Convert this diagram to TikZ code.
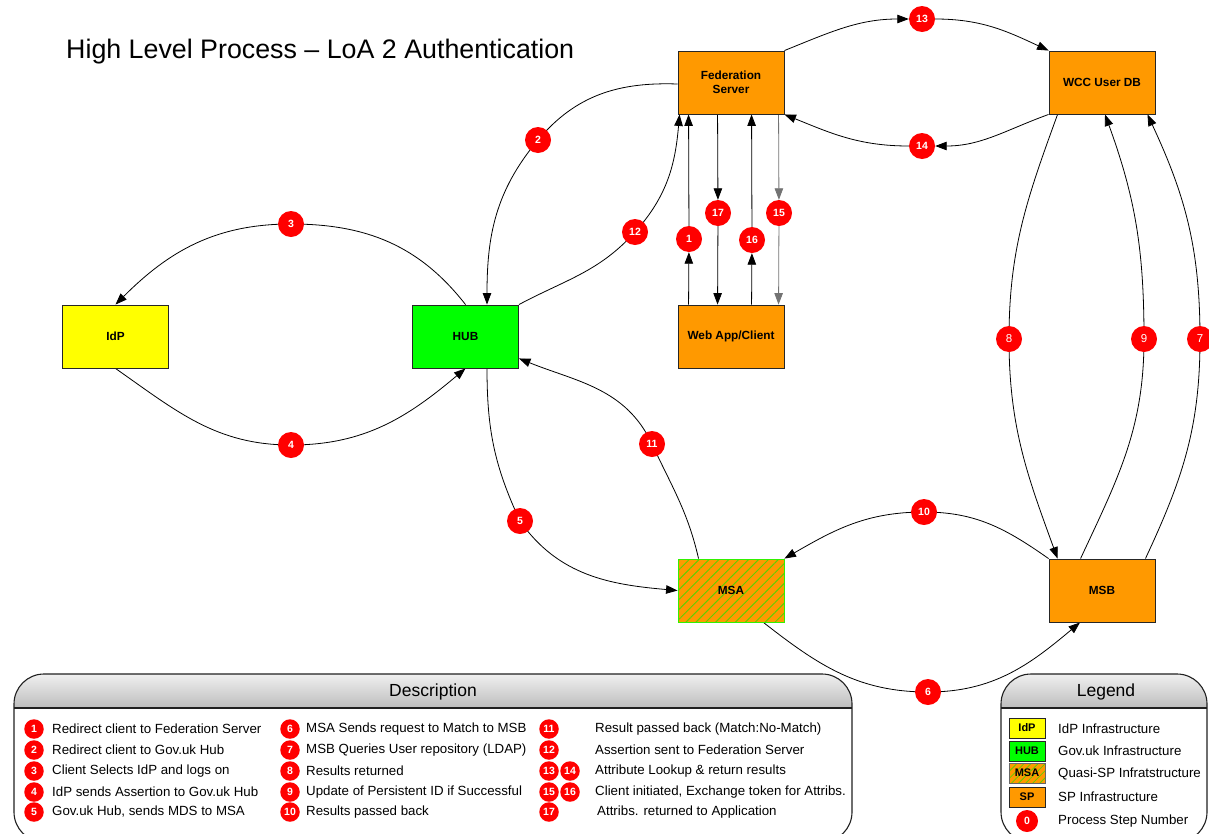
\documentclass[tikz,border=0pt]{standalone}
\usepackage{fontspec}
\setmainfont{Liberation Sans}
\usetikzlibrary{arrows.meta,patterns.meta,backgrounds}

\definecolor{sporange}{HTML}{FF9900}
\definecolor{idpyellow}{HTML}{FFFF00}
\definecolor{hubgreen}{HTML}{00FF00}
\definecolor{stepred}{HTML}{FF0000}
\definecolor{hatchgreen}{HTML}{5FD000}
\definecolor{msaedge}{HTML}{33F000}
\definecolor{paneledge}{HTML}{202020}

\tikzset{
  sysbox/.style={draw=black!85, line width=0.9pt, minimum width=106pt, minimum height=63pt,
    inner sep=2pt, align=center, font=\fontsize{11.8}{14.5}\selectfont\bfseries},
  spbox/.style={sysbox, fill=sporange},
  msabox/.style={sysbox, draw=msaedge, fill=sporange,
    postaction={pattern={Lines[angle=45,distance=7pt,line width=1pt]}, pattern color=hatchgreen},
    postaction={draw=msaedge, line width=0.9pt}},
  stepnum/.style={circle, fill=stepred, minimum size=26pt, inner sep=0pt, text=white,
    font=\fontsize{10.5}{10.5}\selectfont\bfseries},
  stepthin/.style={stepnum, font=\fontsize{11.5}{11.5}\selectfont},
  smallnum/.style={circle, fill=stepred, minimum size=19.5pt, inner sep=0pt, text=white,
    font=\fontsize{10.5}{10.5}\selectfont\bfseries},
  link/.style={line width=0.8pt, draw=black},
  arr/.style={link, -{Triangle[length=11.5pt,width=8.5pt]}},
  panel/.style={draw=paneledge, line width=1.1pt, rounded corners=30pt},
  paneltitle/.style={font=\fontsize{17.5}{20}\selectfont},
  desc/.style={anchor=west, inner sep=0pt, font=\fontsize{13.3}{15}\selectfont},
  legbox/.style={draw=black!85, line width=0.8pt, minimum width=36pt, minimum height=20pt,
    inner sep=0pt, font=\fontsize{11}{11}\selectfont\bfseries},
}

\begin{document}
\begin{tikzpicture}[x=1pt, y=-1pt]
\path[use as bounding box, clip] (0,0) rectangle (1209,833);

% ---------- title ----------
\node[anchor=west, inner sep=0pt, font=\fontsize{26.8}{30}\selectfont] (title) at (66,52)
  {High Level Process – LoA 2 Authentication};

% ---------- systems ----------
\node[spbox] (fed) at (731,82.5) {Federation\\Server};
\node[spbox] (wcc) at (1102,82.5) {WCC User DB};
\node[sysbox, fill=idpyellow] (idp) at (115.5,336.5) {IdP};
\node[sysbox, fill=hubgreen] (hub) at (465.5,336.5) {HUB};
\node[spbox] (web) at (731,336.5) {Web App/Client};
\node[msabox] (msa) at (731,590.5) {MSA};
\node[spbox] (msb) at (1102,590.5) {MSB};

% ---------- step numbers ----------
\node[stepnum] (c1) at (689,239) {1};
\node[stepnum] (c2) at (538,140) {2};
\node[stepnum] (c3) at (291,224) {3};
\node[stepnum] (c4) at (291,445) {4};
\node[stepnum] (c5) at (520,521) {5};
\node[stepnum] (c6) at (928,692) {6};
\node[stepthin] (c7) at (1200,339) {7};
\node[stepthin] (c8) at (1009,339) {8};
\node[stepthin] (c9) at (1144,339) {9};
\node[stepnum] (c10) at (924,512) {10};
\node[stepnum] (c11) at (652,444) {11};
\node[stepnum] (c12) at (635,232) {12};
\node[stepnum] (c13) at (922,19) {13};
\node[stepnum] (c14) at (922,146) {14};
\node[stepnum] (c15) at (779,213) {15};
\node[stepnum] (c16) at (752,240) {16};
\node[stepnum] (c17) at (718,213) {17};

% ---------- connectors ----------
\begin{pgfonlayer}{background}
  % 13 / 14 : federation server <-> user DB
  \draw[arr] (fed.north east) to[out=22,in=180] (c13);
  \draw[arr] (c13) to[out=0,in=155] (wcc.north west);
  \draw[arr] (wcc.south west) to[out=200,in=0] (c14);
  \draw[arr] (c14) to[out=180,in=-22] (fed.south east);
  % 2 : federation server -> hub
  \draw[link] ([yshift=-1.5pt]fed.west) to[out=178,in=50] (c2.center);
  \draw[arr] (c2.center) to[out=230,in=90] ([xshift=21.5pt]hub.north);
  % 12 : hub -> federation server
  \draw[link] (hub.north east) to[out=28,in=228] (c12.center);
  \draw[arr] (c12.center) to[out=48,in=-95] ([xshift=2pt]fed.south west);
  % 3 / 4 : hub <-> idp
  \draw[link] (hub.north) to[out=128,in=0] (c3.center);
  \draw[arr] (c3.center) to[out=180,in=45] (idp.north);
  \draw[link] (idp.south) to[out=-35,in=180] (c4.center);
  \draw[arr] (c4.center) to[out=0,in=-140] (hub.south);
  % 5 / 11 : hub <-> msa
  \draw[link] ([xshift=21.5pt]hub.south) to[out=-90,in=115] (c5.center);
  \draw[arr] (c5.center) to[out=-55,in=175] (msa.west);
  \draw[link] ([xshift=21pt]msa.north west) to[out=103,in=-65] (c11.center);
  \draw[arr] (c11.center) to[out=115,in=-22] ([yshift=10pt]hub.south east);
  % 6 / 10 : msa <-> msb
  \draw[link] (msb.north west) to[out=145,in=0] (c10.center);
  \draw[arr] (c10.center) to[out=180,in=30] (msa.north east);
  \draw[link] ([xshift=-21pt]msa.south east) to[out=-38,in=180] (c6.center);
  \draw[arr] (c6.center) to[out=0,in=-140] ([xshift=-22pt]msb.south);
  % 7 / 8 / 9 : msb <-> user DB
  \draw[link] ([xshift=9pt]wcc.south west) to[out=-110,in=90] (c8.center);
  \draw[arr] (c8.center) to[out=-90,in=110] ([xshift=9pt]msb.north west);
  \draw[link] ([xshift=32pt]msb.north west) to[out=65,in=-90] (c9.center);
  \draw[arr] (c9.center) to[out=90,in=-70] ([xshift=3pt]wcc.south);
  \draw[link] ([xshift=-10pt]msb.north east) to[out=65,in=-90] (c7.center);
  \draw[arr] (c7.center) to[out=90,in=-65] ([xshift=-8pt]wcc.south east);
  % 1 / 15 / 16 / 17 : client <-> federation server
  \draw[arr] ([xshift=11pt]web.north west) -- (c1);
  \draw[arr] (c1) -- ([xshift=11pt]fed.south west);
  \draw[arr] ([xshift=40pt]fed.south west) -- (c17);
  \draw[arr] (c17) -- ([xshift=40pt]web.north west);
  \draw[arr] ([xshift=74pt]web.north west) -- (c16);
  \draw[arr] (c16) -- ([xshift=74pt]fed.south west);
  \draw[arr, draw=black!55] ([xshift=101pt]fed.south west) -- (c15);
  \draw[arr, draw=black!55] (c15) -- ([xshift=101pt]web.north west);
\end{pgfonlayer}

% ---------- description panel ----------
\begin{scope}
  \clip[rounded corners=30pt] (14,674) rectangle (852,842);
  \shade[top color=black!6, bottom color=black!26] (14,674) rectangle (852,708);
\end{scope}
\draw[panel] (14,674) rectangle (852,842);
\draw[draw=paneledge, line width=1.1pt] (14,708) -- (852,708);
\node[paneltitle] (desctitle) at (433,692) {Description};

\foreach \n/\y/\t in {1/729/Redirect client to Federation Server,
                      2/750/Redirect client to Gov.uk Hub,
                      3/771/Client Selects IdP and logs on,
                      4/792/IdP sends Assertion to Gov.uk Hub,
                      5/812/{Gov.uk Hub, sends MDS to MSA}}{
  \node[smallnum] (dn\n) at (34,\y) {\n};
  \node[desc] (dt\n) at (52,\y) {\t};
}
\foreach \n/\y/\t in {6/729/MSA Sends request to Match to MSB,
                      7/750/MSB Queries User repository (LDAP),
                      8/771/Results returned,
                      9/792/Update of Persistent ID if Successful,
                      10/812/Results passed back}{
  \node[smallnum] (dn\n) at (290,\y) {\n};
  \node[desc] (dt\n) at (306,\y) {\t};
}
\foreach \n/\y/\t in {11/729/Result passed back (Match:No-Match),
                      12/750/Assertion sent to Federation Server,
                      13/771/Attribute Lookup \& return results,
                      15/792/{Client initiated, Exchange token for Attribs.}}{
  \node[smallnum] (dn\n) at (549,\y) {\n};
  \node[desc] (dt\n) at (595,\y) {\t};
}
\node[smallnum] (dn14) at (570,771) {14};
\node[smallnum] (dn16) at (570,792) {16};
\node[smallnum] (dn17) at (549,812) {17};
\node[desc] (dt17) at (597,812) {Attribs. returned to Application};

% ---------- legend panel ----------
\begin{scope}
  \clip[rounded corners=30pt] (1001,674) rectangle (1207,842);
  \shade[top color=black!6, bottom color=black!26] (1001,674) rectangle (1207,708);
\end{scope}
\draw[panel] (1001,674) rectangle (1207,842);
\draw[draw=paneledge, line width=1.1pt] (1001,708) -- (1207,708);
\node[paneltitle] (legtitle) at (1106,692) {Legend};

\node[legbox, fill=idpyellow] (lgidp) at (1027,728) {IdP};
\node[legbox, fill=hubgreen] (lghub) at (1027,751) {HUB};
\node[legbox, draw=msaedge, fill=sporange,
  postaction={pattern={Lines[angle=45,distance=5pt,line width=0.8pt]}, pattern color=hatchgreen},
  postaction={draw=black!60, line width=0.8pt}] (lgmsa) at (1027,773) {MSA};
\node[legbox, fill=sporange] (lgsp) at (1027,797) {SP};
\node[smallnum, minimum size=22pt] (lgstep) at (1027,821) {0};

\node[desc] (lt1) at (1058,729) {IdP Infrastructure};
\node[desc] (lt2) at (1058,751) {Gov.uk Infrastructure};
\node[desc] (lt3) at (1058,774) {Quasi-SP Infratstructure};
\node[desc] (lt4) at (1058,797) {SP Infrastructure};
\node[desc] (lt5) at (1058,821) {Process Step Number};
\end{tikzpicture}
\end{document}
